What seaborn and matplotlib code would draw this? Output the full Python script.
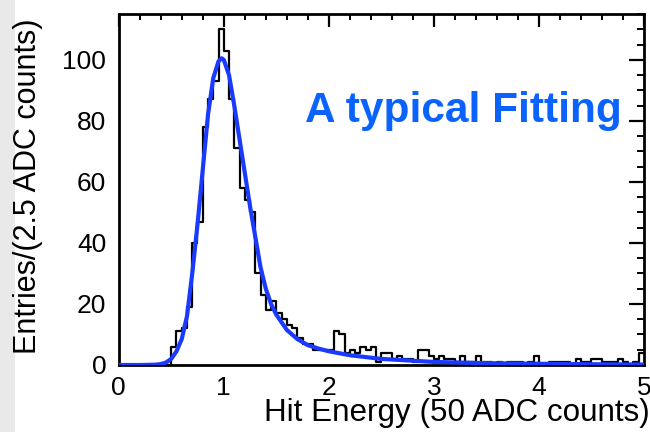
import numpy as np
import pandas as pd
import matplotlib
matplotlib.use("Agg")
import matplotlib.pyplot as plt
from matplotlib.ticker import MultipleLocator
import seaborn as sns

# ---- data ----
bin_lo = [i * 0.05 for i in range(100)]  # lower bin edges (2.5 ADC counts = 0.05)
counts = [0, 0, 0, 0, 0, 0, 0, 0, 0, 0,
          6, 11, 12, 19, 40, 47, 78, 87, 93, 110,
          103, 87, 71, 58, 54, 50, 30, 23, 18, 21,
          17, 15, 13, 12, 9, 7, 7, 5, 5, 5,
          5, 11, 10, 4, 5, 4, 6, 5, 6, 1,
          4, 4, 2, 3, 2, 2, 1, 5, 5, 3,
          2, 3, 2, 2, 1, 3, 1, 1, 3, 1,
          1, 0, 1, 0, 1, 1, 1, 0, 1, 3,
          0, 0, 1, 1, 1, 1, 0, 2, 1, 1,
          2, 2, 1, 1, 1, 2, 1, 0, 1, 4]

fit_x = [0.0, 0.2, 0.35, 0.40, 0.45, 0.50, 0.55, 0.60, 0.65, 0.70, 0.75, 0.80,
         0.85, 0.90, 0.95, 0.98, 1.00, 1.05, 1.10, 1.15, 1.20, 1.25, 1.30, 1.35,
         1.40, 1.45, 1.50, 1.60, 1.70, 1.80, 1.90, 2.00, 2.20, 2.50, 3.00, 3.50,
         4.00, 4.50, 5.00]
fit_y = [0.0, 0.0, 0.1, 0.3, 0.8, 2.0, 4.5, 8.5, 16.0, 30.0, 46.0, 64.0,
         82.0, 94.0, 99.5, 100.5, 100.0, 95.0, 85.0, 74.0, 63.0, 52.0, 42.0, 32.0,
         25.0, 20.0, 16.5, 11.5, 8.5, 6.5, 5.4, 4.5, 3.2, 2.0, 1.0, 0.6,
         0.4, 0.25, 0.15]

x_ticks = [0, 1, 2, 3, 4, 5]
y_ticks = [0, 20, 40, 60, 80, 100]
title_text = "A typical Fitting"
x_label = "Hit Energy (50 ADC counts)"
y_label = "Entries/(2.5 ADC counts)"

# ---- style ----
sns.set_style("white")
plt.rcParams["font.family"] = ["Liberation Sans", "DejaVu Sans"]
plt.rcParams["text.color"] = "black"

fig = plt.figure(figsize=(6.5, 4.32), dpi=100)
fig.patch.set_facecolor("white")
fig.add_artist(plt.Rectangle((0, 0), 15 / 650, 1, transform=fig.transFigure,
                             facecolor="#e9e9e9", edgecolor="none", zorder=0))

ax = fig.add_axes([118.7 / 650, 1 - 365 / 432, (644 - 118.7) / 650, (365 - 14) / 432])

df = pd.DataFrame({"x": np.array(bin_lo) + 0.025, "w": counts})
sns.histplot(data=df, x="x", weights="w", binwidth=0.05, binrange=(0, 5),
             element="step", fill=False, color="black", linewidth=1.6, ax=ax)
sns.lineplot(x=fit_x, y=fit_y, color="#1a3aff", linewidth=3.0, ax=ax, zorder=3)

ax.set_xlim(0, 5)
ax.set_ylim(0, 115)
ax.set_xticks(x_ticks)
ax.set_yticks(y_ticks)
ax.xaxis.set_minor_locator(MultipleLocator(0.2))
ax.yaxis.set_minor_locator(MultipleLocator(5))
ax.set_xlabel("")
ax.set_ylabel("")

for s in ax.spines.values():
    s.set_visible(True)
    s.set_linewidth(2.0)
    s.set_color("black")

ax.tick_params(axis="both", which="both", direction="in", top=True, right=True,
               labelsize=19, colors="black", labelcolor="black")
ax.tick_params(axis="y", which="major", length=10.8, width=1.6, pad=9)
ax.tick_params(axis="y", which="minor", length=5, width=1.4)
ax.tick_params(axis="x", which="major", length=9.4, width=1.6, pad=8)
ax.tick_params(axis="x", which="minor", length=4.3, width=1.4)

fig.text(305 / 650, 1 - 122 / 432, title_text, color="#0b63ff", fontsize=30.5,
         fontweight="bold", ha="left", va="baseline")
fig.text(0.999, 1 - 413 / 432, x_label, fontsize=22.6, ha="right", va="center",
         color="black")
fig.text(28 / 650, 1 - 18 / 432, y_label, fontsize=22, rotation=90,
         ha="center", va="top", color="black")

fig.savefig("out.png", dpi=100)
